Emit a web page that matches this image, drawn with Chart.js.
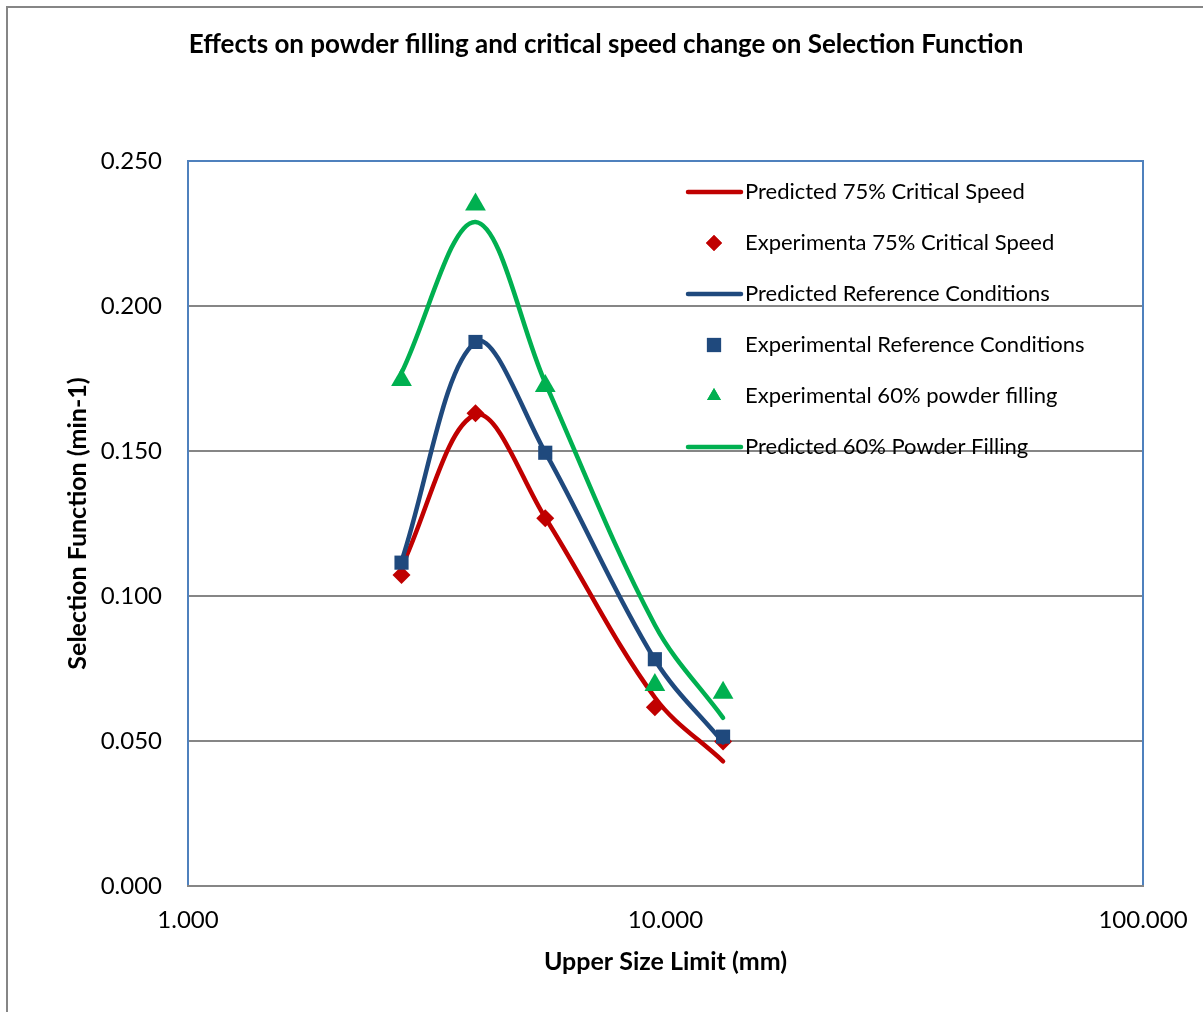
<!DOCTYPE html>
<html>
<head>
<meta charset="utf-8">
<title>Selection Function</title>
<script src="https://cdn.jsdelivr.net/npm/chart.js@4/dist/chart.umd.min.js"></script>
<style>
  html, body { margin: 0; padding: 0; background: #ffffff; }
  #wrap { width: 1203px; height: 1012px; }
</style>
</head>
<body>
<div id="wrap"><canvas id="c" width="1203" height="1012"></canvas></div>
<script>
// Upper size limit of each size class (mm)
const sizes = [2.8, 4.0, 5.6, 9.5, 13.2];

// Selection function (min-1)
const pred75 = [0.110, 0.1625, 0.127, 0.065, 0.043];
const exp75 = [0.1072, 0.163, 0.1268, 0.0616, 0.0498];
const predRef = [0.112, 0.1875, 0.1495, 0.078, 0.0495];
const expRef = [0.1115, 0.1876, 0.1494, 0.0782, 0.0515];
const exp60 = [0.1745, 0.2350, 0.1724, 0.0693, 0.0666];
const pred60 = [0.177, 0.2290, 0.1735, 0.090, 0.058];

const seriesNames = [
  'Predicted 75% Critical Speed',
  'Experimenta 75% Critical Speed',
  'Predicted Reference Conditions',
  'Experimental Reference Conditions',
  'Experimental 60% powder filling',
  'Predicted 60% Powder Filling'
];

const chartTitle = 'Effects on powder filling and critical speed change on Selection Function';
const xTickValues = [1, 10, 100];
const yTickValues = [0, 0.05, 0.10, 0.15, 0.20, 0.25];

const RED = '#C00000';
const BLUE = '#1F497D';
const GREEN = '#00B050';
const FONT = 'Lato, "Open Sans", sans-serif';

const pts = (ys) => sizes.map((x, i) => ({ x: x, y: ys[i] }));

function lineSet(label, ys, color, order) {
  return {
    label, data: pts(ys), borderColor: color, backgroundColor: color,
    showLine: true, borderWidth: 4.5, pointRadius: 0, tension: 0.35,
    borderCapStyle: 'round', fill: false, order
  };
}
function markerSet(label, ys, color, style, radius, order) {
  return {
    label, data: pts(ys), borderColor: color, backgroundColor: color,
    showLine: false, pointStyle: style, pointRadius: radius, pointBorderWidth: 0,
    order
  };
}

// Chart frame: outer gray border, centred title, blue plot-area box, and the legend inside the plot
const framePlugin = {
  id: 'frame',
  beforeDraw(chart) {
    const ctx = chart.ctx;
    ctx.save();
    ctx.fillStyle = '#ffffff';
    ctx.fillRect(0, 0, chart.width, chart.height);
    ctx.strokeStyle = '#868686';
    ctx.lineWidth = 2;
    ctx.strokeRect(7, 7, chart.width + 20, chart.height + 20);
    ctx.font = 'bold 26px ' + FONT;
    ctx.fillStyle = '#000000';
    ctx.textAlign = 'center';
    ctx.textBaseline = 'middle';
    ctx.fillText(chartTitle, 606, 45);
    ctx.restore();
  },
  beforeDatasetsDraw(chart) {
    const { ctx, chartArea: a } = chart;
    ctx.save();
    ctx.strokeStyle = '#4F81BD';
    ctx.lineWidth = 2;
    ctx.beginPath();
    ctx.moveTo(a.left, a.bottom);
    ctx.lineTo(a.left, a.top);
    ctx.lineTo(a.right, a.top);
    ctx.lineTo(a.right, a.bottom);
    ctx.stroke();
    ctx.strokeStyle = '#868686';
    ctx.beginPath();
    ctx.moveTo(a.left - 1, a.bottom);
    ctx.lineTo(a.right + 1, a.bottom);
    ctx.stroke();
    ctx.restore();
  },
  afterDatasetsDraw(chart) {
    const ctx = chart.ctx;
    const a = chart.chartArea;
    const x0 = a.left + 500, x1 = a.left + 553, mx = a.left + 526, tx = a.left + 557;
    const y0 = a.top + 31, dy = 51;
    ctx.save();
    ctx.font = '22px ' + FONT;
    ctx.textBaseline = 'middle';
    ctx.textAlign = 'left';
    chart.data.datasets.forEach((ds, i) => {
      const y = y0 + i * dy;
      if (ds.showLine) {
        ctx.strokeStyle = ds.borderColor;
        ctx.lineWidth = 4.5;
        ctx.lineCap = 'round';
        ctx.beginPath();
        ctx.moveTo(x0, y);
        ctx.lineTo(x1, y);
        ctx.stroke();
      } else {
        ctx.fillStyle = ds.backgroundColor;
        Chart.helpers.drawPoint(ctx, {
          pointStyle: ds.pointStyle, radius: ds.pointStyle === 'rect' ? 10 : 8,
          borderWidth: 0, rotation: 0
        }, mx, y);
        ctx.fill();
      }
      ctx.fillStyle = '#000000';
      ctx.fillText(ds.label, tx, y);
    });
    ctx.restore();
  }
};

new Chart(document.getElementById('c'), {
  type: 'scatter',
  data: {
    datasets: [
      lineSet(seriesNames[0], pred75, RED, 5),
      markerSet(seriesNames[1], exp75, RED, 'rectRot', 9, 4),
      lineSet(seriesNames[2], predRef, BLUE, 3),
      markerSet(seriesNames[3], expRef, BLUE, 'rect', 10, 2),
      markerSet(seriesNames[4], exp60, GREEN, 'triangle', 12, 1),
      lineSet(seriesNames[5], pred60, GREEN, 0)
    ]
  },
  options: {
    responsive: false,
    animation: false,
    events: [],
    layout: { padding: { left: 0, right: 60, top: 161, bottom: 0 } },
    plugins: {
      legend: { display: false },
      tooltip: { enabled: false },
      title: { display: false }
    },
    scales: {
      x: {
        type: 'logarithmic',
        min: 1, max: 100,
        afterBuildTicks(scale) { scale.ticks = xTickValues.map(v => ({ value: v })); },
        afterFit(scale) { scale.height = 126; scale.paddingLeft = 0; scale.paddingRight = 0; },
        ticks: {
          color: '#000000', autoSkip: false, maxRotation: 0, padding: 20,
          font: { family: FONT, size: 24 },
          callback: (v) => Number(v).toFixed(3)
        },
        grid: { display: false, drawTicks: false },
        border: { display: false },
        title: {
          display: true, text: 'Upper Size Limit (mm)', color: '#000000',
          font: { family: FONT, size: 25, weight: 'bold', lineHeight: 1.2 },
          padding: { top: 0, bottom: 35 }
        }
      },
      y: {
        min: 0, max: 0.25,
        afterBuildTicks(scale) { scale.ticks = yTickValues.map(v => ({ value: v })); },
        afterFit(scale) { scale.width = 188; scale.paddingTop = 0; scale.paddingBottom = 0; },
        ticks: {
          color: '#000000', padding: 26,
          font: { family: FONT, size: 24 },
          callback: (v) => Number(v).toFixed(3)
        },
        grid: { color: '#868686', lineWidth: 2, drawTicks: false },
        border: { display: false },
        title: {
          display: true, text: 'Selection Function (min-1)', color: '#000000',
          font: { family: FONT, size: 25, weight: 'bold', lineHeight: 1.2 },
          padding: { top: 63, bottom: 0 }
        }
      }
    }
  },
  plugins: [framePlugin]
});
</script>
</body>
</html>
